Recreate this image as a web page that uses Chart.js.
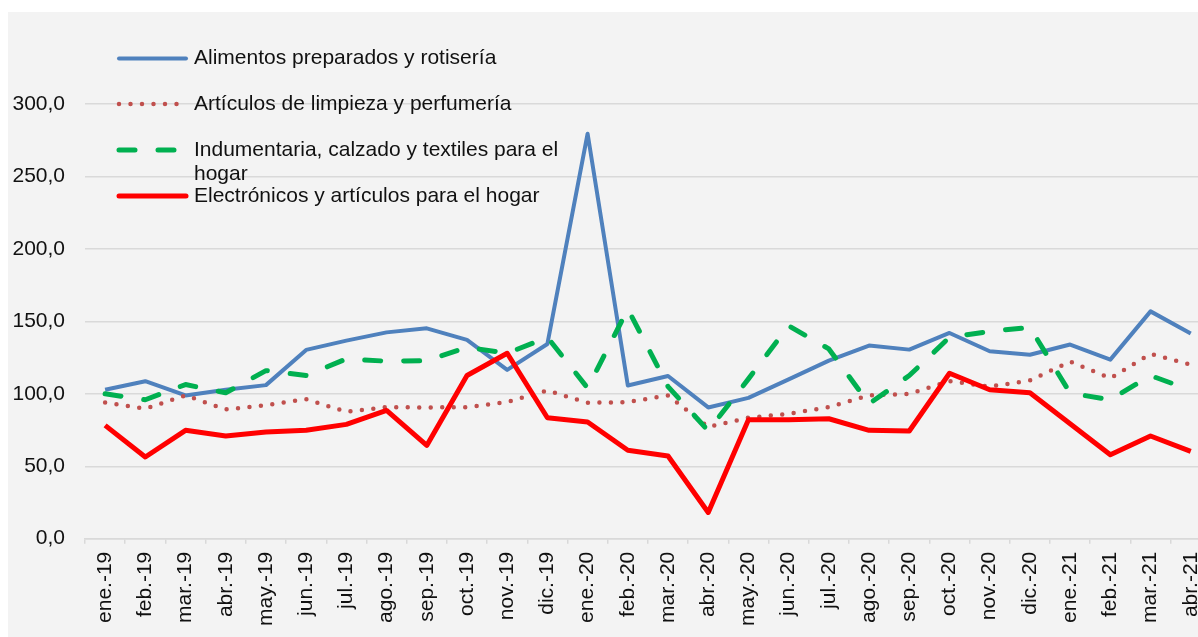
<!DOCTYPE html>
<html lang="es">
<head>
    <meta charset="UTF-8">
    <title>Ventas por rubro</title>
    <script src="https://cdn.jsdelivr.net/npm/chart.js"></script>
    <style>
        html, body {
            margin: 0;
            padding: 0;
            background-color: #ffffff;
            overflow: hidden;
            width: 1198px;
            height: 637px;
        }
        #panel {
            position: absolute;
            left: 8px;
            top: 12px;
            width: 1190px;
            height: 625px;
            background-color: #f3f3f3;
        }
        #chart {
            position: absolute;
            left: 8px;
            top: -1px;
        }
    </style>
</head>
<body>

    <div id="panel"></div>
    <canvas id="chart" width="1216" height="638"></canvas>

    <script>
        const meses = ['ene.-19', 'feb.-19', 'mar.-19', 'abr.-19', 'may.-19', 'jun.-19', 'jul.-19', 'ago.-19',
            'sep.-19', 'oct.-19', 'nov.-19', 'dic.-19', 'ene.-20', 'feb.-20', 'mar.-20', 'abr.-20', 'may.-20',
            'jun.-20', 'jul.-20', 'ago.-20', 'sep.-20', 'oct.-20', 'nov.-20', 'dic.-20', 'ene.-21', 'feb.-21',
            'mar.-21', 'abr.-21'];

        const alimentos = [102.8, 108.7, 98.9, 102.8, 106.0, 130.3, 136.7, 142.4, 145.2, 137.2, 116.5, 134.4,
            279.5, 105.7, 112.3, 90.6, 97.2, 110.0, 122.9, 133.3, 130.5, 142.0, 129.4, 127.0, 134.0, 123.6, 156.9, 141.7];
        const limpieza = [94.0, 89.7, 98.9, 89.2, 92.2, 96.3, 87.6, 90.8, 90.6, 90.8, 94.3, 102.3,
            93.8, 94.3, 98.9, 77.1, 83.5, 86.2, 90.8, 98.9, 100.0, 108.7, 105.0, 109.2, 122.2, 110.8, 127.5, 120.2];
        const indumentaria = [100.0, 95.9, 106.4, 100.7, 116.0, 112.6, 124.1, 122.5, 122.9, 132.1, 128.0, 139.0,
            104.0, 158.6, 105.0, 74.5, 110.3, 147.0, 131.0, 93.1, 112.6, 139.0, 143.1, 145.9, 100.5, 95.9, 112.6, 102.5];
        const electronicos = [78.2, 56.4, 74.8, 70.9, 73.6, 74.8, 78.9, 88.5, 64.4, 112.6, 128.0, 83.5,
            80.5, 61.0, 57.1, 18.1, 82.1, 82.1, 82.8, 74.8, 74.3, 114.2, 102.8, 100.7, 79.4, 58.0, 70.9, 60.3];

        const nombres = ['Alimentos preparados y rotisería', 'Artículos de limpieza y perfumería',
            'Indumentaria, calzado y textiles para el hogar', 'Electrónicos y artículos para el hogar'];
        const yTicks = [0, 50, 100, 150, 200, 250, 300, 350];

        const FONT = '"Liberation Sans", Arial, sans-serif';

        // legend drawn inside the plot, like the original
        const legendInside = {
            id: 'legendInside',
            afterDraw(chart) {
                const ctx = chart.ctx;
                const rows = [59.5, 105, 151, 197];
                ctx.save();
                ctx.font = '21px ' + FONT;
                ctx.textBaseline = 'middle';
                ctx.fillStyle = '#111111';
                chart.data.datasets.forEach((ds, i) => {
                    const y = rows[i];
                    ctx.beginPath();
                    ctx.strokeStyle = ds.borderColor;
                    ctx.lineWidth = ds.borderWidth;
                    ctx.lineCap = 'round';
                    ctx.setLineDash(ds.borderDash || []);
                    ctx.moveTo(111, y);
                    ctx.lineTo(178, y);
                    ctx.stroke();
                    ctx.setLineDash([]);

                    // wrap long names
                    const words = ds.label.split(' ');
                    let line = '', ly = y;
                    words.forEach(w => {
                        const test = line ? line + ' ' + w : w;
                        if (ctx.measureText(test).width > 400 && line) {
                            ctx.fillText(line, 186, ly);
                            line = w;
                            ly += 24;
                        } else {
                            line = test;
                        }
                    });
                    ctx.fillText(line, 186, ly);
                });
                ctx.restore();
            }
        };

        new Chart(document.getElementById('chart'), {
            type: 'line',
            data: {
                labels: meses,
                datasets: [
                    {
                        label: nombres[0],
                        data: alimentos,
                        borderColor: '#4f81bd',
                        borderWidth: 4,
                        borderJoinStyle: 'round',
                        order: 3
                    },
                    {
                        label: nombres[1],
                        data: limpieza,
                        borderColor: '#c0504d',
                        borderWidth: 4.5,
                        borderDash: [0, 11.5],
                        borderCapStyle: 'round',
                        order: 2
                    },
                    {
                        label: nombres[2],
                        data: indumentaria,
                        borderColor: '#00b050',
                        borderWidth: 5,
                        borderDash: [16, 23],
                        borderCapStyle: 'round',
                        borderJoinStyle: 'round',
                        order: 1
                    },
                    {
                        label: nombres[3],
                        data: electronicos,
                        borderColor: '#ff0000',
                        borderWidth: 5,
                        borderJoinStyle: 'round',
                        order: 0
                    }
                ]
            },
            options: {
                responsive: false,
                animation: false,
                elements: {
                    point: { radius: 0 },
                    line: { tension: 0 }
                },
                layout: {
                    padding: { top: 4, right: 3, left: 0, bottom: 0 }
                },
                plugins: {
                    legend: { display: false },
                    tooltip: { enabled: false }
                },
                scales: {
                    x: {
                        offset: true,
                        afterFit(scale) { scale.height = 98.3; },
                        grid: {
                            offset: true,
                            drawOnChartArea: false,
                            drawTicks: true,
                            tickLength: 5,
                            color: '#d9d9d9',
                            lineWidth: 1.5
                        },
                        border: { color: '#d9d9d9', width: 1.5 },
                        ticks: {
                            minRotation: 90,
                            maxRotation: 90,
                            autoSkip: false,
                            padding: 8,
                            color: '#111111',
                            font: { family: FONT, size: 21 }
                        }
                    },
                    y: {
                        min: 0,
                        max: 350,
                        afterFit(scale) { scale.width = 77; },
                        afterBuildTicks(scale) { scale.ticks = yTicks.map(v => ({ value: v })); },
                        border: { display: false },
                        grid: {
                            drawTicks: false,
                            lineWidth: 1.5,
                            color: c => (c.tick && c.tick.value === 350) ? 'rgba(0,0,0,0)' : '#d9d9d9'
                        },
                        ticks: {
                            padding: 20,
                            color: '#111111',
                            font: { family: FONT, size: 21 },
                            callback: v => v === 350 ? '' : v.toFixed(1).replace('.', ',')
                        }
                    }
                }
            },
            plugins: [legendInside]
        });
    </script>

</body>
</html>
